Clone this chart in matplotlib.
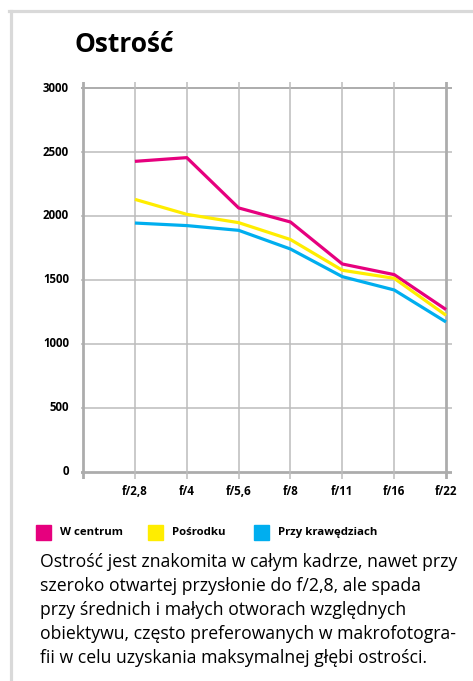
import numpy as np
import matplotlib.pyplot as plt
from matplotlib.lines import Line2D
from matplotlib.patches import Rectangle

# dane z wykresu
przyslony = ['f/2,8', 'f/4', 'f/5,6', 'f/8', 'f/11', 'f/16', 'f/22']
w_centrum = [2427, 2456, 2063, 1953, 1625, 1542, 1269]
posrodku = [2130, 2013, 1948, 1816, 1576, 1513, 1224]
przy_krawedziach = [1945, 1925, 1888, 1742, 1526, 1422, 1172]
y_ticks = [0, 500, 1000, 1500, 2000, 2500, 3000]
serie = ['W centrum', 'Pośrodku', 'Przy krawędziach']
kolory = ['#e6007e', '#ffed00', '#00aeef']

W, H = 473, 681
plt.rcParams['font.family'] = ['Open Sans', 'DejaVu Sans']
fig = plt.figure(figsize=(W / 100, H / 100), dpi=100)

# ramka
fig.add_artist(Line2D([10.5 / W, 10.5 / W], [0, 1 - 10.5 / H], color='#d9d9d9', lw=2.3))
fig.add_artist(Line2D([9 / W, 1], [1 - 10.5 / H, 1 - 10.5 / H], color='#d9d9d9', lw=2.3))

fig.text(74 / W, 1 - 45 / H, 'Ostrość', fontsize=19, fontweight='bold', va='center', ha='left')

ax = fig.add_axes([81 / W, 1 - 479 / H, (452 - 81) / W, (479 - 82) / H])
ax.set_xlim(-0.04, 7.115)
ax.set_ylim(-55, 3047)
ax.axis('off')

x = np.arange(1, len(przyslony) + 1)
grid_c = '#bcbcbc'
axis_c = '#acacac'
for yv in y_ticks[1:-1]:
    ax.plot([-0.04, 7.115], [yv, yv], color=grid_c, lw=1.1, zorder=1)
ax.plot([-0.04, 7.115], [3000, 3000], color=axis_c, lw=1.4, zorder=1)
ax.plot([-0.04, 7.115], [0, 0], color=axis_c, lw=2.0, zorder=1)
for xv in x[:-1]:
    ax.plot([xv, xv], [-55, 3047], color=grid_c, lw=1.1, zorder=1)
ax.plot([0, 0], [-55, 3047], color=axis_c, lw=2.0, zorder=1)
ax.plot([7, 7], [-55, 3047], color=axis_c, lw=2.0, zorder=1)

for dane, kol in zip([w_centrum, posrodku, przy_krawedziach], kolory):
    ax.plot(x, dane, color=kol, lw=2.3, zorder=3, solid_capstyle='butt')

for yv in y_ticks:
    ax.text(-0.27, yv, str(yv), ha='right', va='center', fontsize=8.3, fontweight='bold')
for xv, lab in zip(x, przyslony):
    ax.text(xv, -155, lab, ha='center', va='center', fontsize=8.3, fontweight='bold')

# legenda
leg_x = [36, 148, 254]
for lx, kol, nazwa in zip(leg_x, kolory, serie):
    fig.add_artist(Rectangle((lx / W, 1 - 540 / H), 15 / W, 15 / H, color=kol))
    fig.text((lx + 24) / W, 1 - 532.5 / H, nazwa, fontsize=8.2, fontweight='bold', va='center', ha='left')

opis = ['Ostrość jest znakomita w całym kadrze, nawet przy',
        'szeroko otwartej przysłonie do f/2,8, ale spada',
        'przy średnich i małych otworach względnych',
        'obiektywu, często preferowanych w makrofotogra-',
        'fii w celu uzyskania maksymalnej głębi ostrości.']
for i, linia in enumerate(opis):
    fig.text(40 / W, 1 - (562 + 24 * i) / H, linia, fontsize=12.7, va='center', ha='left')

fig.savefig('out.png', dpi=100)
